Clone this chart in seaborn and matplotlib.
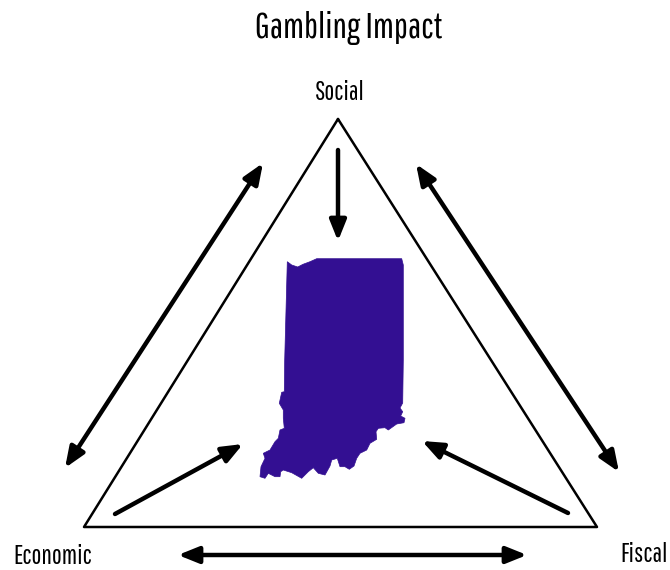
#!/usr/bin/env python3

import matplotlib
matplotlib.use('Agg')
import matplotlib.pyplot as plt
import pandas as pd
import seaborn as sns

title = 'Gambling Impact'
corner_labels = ['Social', 'Economic', 'Fiscal']

# triangle corners, picture pixels
triangle_x = [338, 84, 597, 338]
triangle_y = [119, 527, 527, 119]

# arrows as start/end pixels
one_way_start = [(338, 150), (115, 514), (568, 513)]
one_way_end = [(338, 241), (243, 444), (422, 441)]
two_way_start = [(263, 163), (416, 164), (178, 555)]
two_way_end = [(65, 468), (619, 472), (527, 555)]

# Indiana outline
state_x = [287.3, 291.7, 297.7, 303, 310, 316.7, 401.7, 403.3, 403.3, 402.7, 400, 402.7, 400.7, 405,
           404, 396.7, 388.3, 385, 378.3, 376, 376.7, 370, 366.7, 360, 356.7, 354, 349.3, 345, 340,
           337.3, 331.7, 330, 325, 318.3, 313.3, 308.3, 301.7, 291.7, 283.3, 280.7, 280, 275, 268.3,
           265, 260, 261, 265, 263.3, 270, 275, 278.3, 280, 284.3, 283.3, 283.3, 279.3, 281.7, 284.3, 284.7]
state_y = [261.7, 265, 267, 264.3, 261.7, 258.7, 258.7, 265, 360, 403, 408, 411.7, 416, 418.3,
           422.7, 424, 430, 427.7, 428.3, 431.7, 439.3, 443.3, 450, 453.3, 458.3, 466, 469.3, 466.7, 466.7,
           458.3, 460, 466, 475, 473.3, 467.7, 471.7, 478.3, 472.7, 470, 471.7, 476.7, 476.7, 473.3,
           478.3, 476.7, 466.7, 458.3, 453.3, 450, 441.7, 438.3, 430, 428.3, 418.3, 410, 403.3, 392.3, 391.7, 360]

sns.set_theme(style='white')
plt.rcParams['font.family'] = ['Pathway Gothic One', 'Liberation Sans', 'DejaVu Sans']

fig, ax = plt.subplots(figsize=(6.7, 5.7), dpi=100)
ax.set_position([0, 0, 1, 1])

triangle = pd.DataFrame({'x': triangle_x, 'y': triangle_y})
sns.lineplot(data=triangle, x='x', y='y', sort=False, estimator=None, color='black', linewidth=1.8, ax=ax)
ax.fill(state_x, state_y, color='#330f92', linewidth=0.5)

for start, end in zip(one_way_start, one_way_end):
	ax.annotate('', xy=end, xytext=start, arrowprops=dict(arrowstyle='-|>,head_length=0.62,head_width=0.25',
		color='black', lw=3.2, shrinkA=0, shrinkB=0, mutation_scale=20))
for start, end in zip(two_way_start, two_way_end):
	ax.annotate('', xy=end, xytext=start, arrowprops=dict(arrowstyle='<|-|>,head_length=0.62,head_width=0.25',
		color='black', lw=3.2, shrinkA=0, shrinkB=0, mutation_scale=20))

ax.text(349, 28, title, fontsize=26, ha='center', va='center', color='black')
ax.text(340, 93, corner_labels[0], fontsize=19, ha='center', va='center', color='black')
ax.text(13, 556, corner_labels[1], fontsize=19, ha='left', va='center', color='black')
ax.text(668, 554, corner_labels[2], fontsize=19, ha='right', va='center', color='black')

ax.set_xlim(0, 670)
ax.set_ylim(570, 0)
ax.axis('off')
fig.savefig('out.png', dpi=100)
